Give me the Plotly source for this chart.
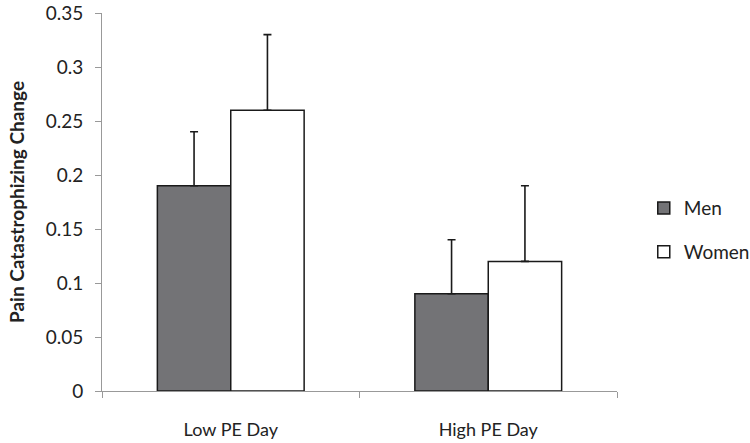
import plotly.graph_objects as go

categories = ["Low PE Day", "High PE Day"]
men_values = [0.19, 0.09]
men_err = [0.05, 0.05]
women_values = [0.26, 0.12]
women_err = [0.07, 0.07]
y_ticks = [0, 0.05, 0.1, 0.15, 0.2, 0.25, 0.3, 0.35]
y_tick_labels = ["0", "0.05", "0.1", "0.15", "0.2", "0.25", "0.3", "0.35"]

font_family = "Lato, Open Sans, sans-serif"

fig = go.Figure()
fig.add_trace(go.Bar(
    name="Men", x=categories, y=men_values, legendgroup="m",
    marker=dict(color="#737376", line=dict(color="#1a1a1a", width=1.5)),
    error_y=dict(type="data", array=men_err, arrayminus=[0, 0], symmetric=False,
                 color="#1a1a1a", thickness=1.6, width=4),
))
fig.add_trace(go.Bar(
    name="Women", x=categories, y=women_values, legendgroup="w",
    marker=dict(color="#ffffff", line=dict(color="#1a1a1a", width=1.5)),
    error_y=dict(type="data", array=women_err, arrayminus=[0, 0], symmetric=False,
                 color="#1a1a1a", thickness=1.6, width=4),
))

fig.update_layout(
    width=750, height=443,
    margin=dict(l=102, r=133, t=13, b=52, autoexpand=False),
    paper_bgcolor="white", plot_bgcolor="white",
    barmode="group", bargap=0.43, bargroupgap=0,
    font=dict(family=font_family, size=18, color="#222"),
    legend=dict(x=1.052, y=0.534, xanchor="left", yanchor="top",
                font=dict(size=19, color="#222"), tracegroupgap=16,
                itemwidth=30, bgcolor="rgba(0,0,0,0)"),
    showlegend=True,
)
fig.update_xaxes(
    type="category", tickson="boundaries", ticks="outside", ticklen=6,
    tickcolor="#999", showline=True, linecolor="#999", linewidth=1,
    showgrid=False, zeroline=False, ticklabelstandoff=22, automargin=False,
    tickfont=dict(size=18, color="#222"),
)
fig.update_yaxes(
    range=[0, 0.35], tickvals=y_ticks, ticktext=y_tick_labels,
    ticks="outside", ticklen=6, tickcolor="#999",
    showline=True, linecolor="#999", linewidth=1,
    showgrid=False, zeroline=False, automargin=False, ticklabelstandoff=8,
    tickfont=dict(size=19, color="#222"),
    title=dict(text="<b>Pain Catastrophizing Change</b>", standoff=16,
               font=dict(size=19, color="#222")),
)

fig.write_html("out.html", config={"displayModeBar": False},
               post_script="document.body.style.margin='0';")
